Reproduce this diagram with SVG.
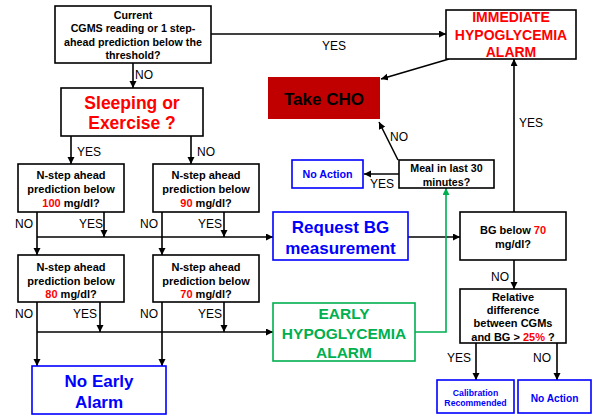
<svg xmlns="http://www.w3.org/2000/svg" width="594" height="419" viewBox="0 0 594 419">
<defs>
<marker id="ah" markerUnits="userSpaceOnUse" markerWidth="8" markerHeight="8" refX="7" refY="3.5" orient="auto"><path d="M0,0 L7,3.5 L0,7 z" fill="#000"/></marker>
<marker id="ahg" markerUnits="userSpaceOnUse" markerWidth="8" markerHeight="8" refX="7" refY="3.5" orient="auto"><path d="M0,0 L7,3.5 L0,7 z" fill="#00B050"/></marker>
</defs>
<style>
text{font-family:"Liberation Sans",Arial,sans-serif;text-anchor:middle}
.b{font-weight:bold}
.box{fill:#fff;stroke:#000;stroke-width:1.6}
.bb{fill:#fff;stroke:#0000FF;stroke-width:1.6}
.gb{fill:#fff;stroke:#00B050;stroke-width:1.6}
.c{fill:none;stroke:#000;stroke-width:1.6;marker-end:url(#ah)}
.l{fill:none;stroke:#000;stroke-width:1.6}
.lab{font-size:12px;text-anchor:start}
.r{fill:#FF0000}
.bl{fill:#0000FF}
.gr{fill:#00B050}
.s11{font-size:11px}
</style>
<g id="connectors">
<line class="c" x1="211" y1="34" x2="446" y2="34"/>
<line class="c" x1="133" y1="63" x2="133" y2="88"/>
<line class="c" x1="71" y1="136" x2="71" y2="164"/>
<line class="c" x1="191" y1="136" x2="191" y2="164"/>
<line class="c" x1="37" y1="212" x2="37" y2="255"/>
<line class="c" x1="104" y1="212" x2="104" y2="237"/>
<line class="c" x1="162" y1="212" x2="162" y2="255"/>
<line class="c" x1="224" y1="212" x2="224" y2="237"/>
<line class="c" x1="37" y1="237" x2="273" y2="237"/>
<line class="c" x1="37" y1="302" x2="37" y2="366"/>
<line class="c" x1="100" y1="302" x2="100" y2="332"/>
<line class="c" x1="162" y1="302" x2="162" y2="366"/>
<line class="c" x1="224" y1="302" x2="224" y2="332"/>
<line class="c" x1="37" y1="332" x2="273" y2="332"/>
<line class="c" x1="408" y1="237" x2="460" y2="237"/>
<line class="c" x1="514" y1="260" x2="514" y2="289"/>
<line class="c" x1="514" y1="212" x2="514" y2="59"/>
<line class="c" x1="449" y1="59" x2="381" y2="79"/>
<line class="c" x1="399" y1="174" x2="364" y2="174"/>
<line class="c" x1="398" y1="160" x2="379" y2="122"/>
<path d="M415,332 H446 V188" fill="none" stroke="#00B050" stroke-width="1.6" marker-end="url(#ahg)"/>
<line class="c" x1="476" y1="343" x2="476" y2="380"/>
<line class="c" x1="557" y1="343" x2="557" y2="380"/>
<text class="lab" x="135" y="79">NO</text>
<text class="lab" x="77" y="156">YES</text>
<text class="lab" x="197" y="156">NO</text>
<text class="lab" x="15" y="227.5">NO</text>
<text class="lab" x="79" y="227.5">YES</text>
<text class="lab" x="140" y="227.5">NO</text>
<text class="lab" x="198" y="227.5">YES</text>
<text class="lab" x="15" y="318">NO</text>
<text class="lab" x="73" y="318">YES</text>
<text class="lab" x="140" y="318">NO</text>
<text class="lab" x="198" y="318">YES</text>
<text class="lab" x="322" y="50">YES</text>
<text class="lab" x="519" y="127">YES</text>
<text class="lab" x="390" y="141">NO</text>
<text class="lab" x="370" y="188">YES</text>
<text class="lab" x="491" y="281">NO</text>
<text class="lab" x="447" y="361.5">YES</text>
<text class="lab" x="533" y="361.5">NO</text>
</g>
<g id="start">
<rect class="box" x="55" y="6" width="156" height="57"/>
<text class="b" font-size="10.7" x="133" y="19.2">Current</text>
<text class="b" font-size="10.7" x="133" y="32.4">CGMS reading or 1 step-</text>
<text class="b" font-size="10.7" x="133" y="45.6">ahead prediction below the</text>
<text class="b" font-size="10.7" x="133" y="58.6">threshold?</text>
</g>
<g id="immediate">
<rect class="box" x="446" y="10" width="130" height="49"/>
<text class="b r" font-size="14" x="511" y="22.3">IMMEDIATE</text>
<text class="b r" font-size="14" x="511" y="39.7">HYPOGLYCEMIA</text>
<text class="b r" font-size="14" x="511" y="57.3">ALARM</text>
</g>
<g id="takecho">
<rect x="268" y="77" width="112" height="42" fill="#C00000"/>
<text class="b" font-size="17" x="324" y="104.5">Take CHO</text>
</g>
<g id="sleeping">
<rect class="box" x="61" y="88" width="142" height="48"/>
<text class="b r" font-size="17.5" x="132" y="108.5">Sleeping or</text>
<text class="b r" font-size="17.5" x="132" y="129">Exercise ?</text>
</g>
<g id="noaction1">
<rect class="bb" x="292" y="160" width="71" height="28"/>
<text class="b bl" font-size="10.7" x="327.5" y="178">No Action</text>
</g>
<g id="meal">
<rect class="box" x="399" y="160" width="95" height="28"/>
<text class="b" font-size="10.7" x="446.5" y="171.5">Meal in last 30</text>
<text class="b" font-size="10.7" x="446.5" y="185.5">minutes?</text>
</g>
<g id="n100">
<rect class="box" x="18" y="164" width="106" height="48"/>
<text class="b s11" x="71" y="179">N-step ahead</text>
<text class="b s11" x="71" y="193">prediction below</text>
<text class="b s11" x="71" y="206.5"><tspan class="r">100</tspan> mg/dl?</text>
</g>
<g id="n90">
<rect class="box" x="153" y="164" width="106" height="48"/>
<text class="b s11" x="206" y="179">N-step ahead</text>
<text class="b s11" x="206" y="193">prediction below</text>
<text class="b s11" x="206" y="206.5"><tspan class="r">90</tspan> mg/dl?</text>
</g>
<g id="n80">
<rect class="box" x="18" y="255" width="106" height="47"/>
<text class="b s11" x="71" y="270.7">N-step ahead</text>
<text class="b s11" x="71" y="284.7">prediction below</text>
<text class="b s11" x="71" y="297.5"><tspan class="r">80</tspan> mg/dl?</text>
</g>
<g id="n70">
<rect class="box" x="153" y="255" width="106" height="47"/>
<text class="b s11" x="206" y="270.7">N-step ahead</text>
<text class="b s11" x="206" y="284.7">prediction below</text>
<text class="b s11" x="206" y="297.5"><tspan class="r">70</tspan> mg/dl?</text>
</g>
<g id="request">
<rect class="bb" x="273" y="212" width="135" height="48"/>
<text class="b bl" font-size="17" x="340.5" y="233">Request BG</text>
<text class="b bl" font-size="17" x="340.5" y="254">measurement</text>
</g>
<g id="bgbelow">
<rect class="box" x="460" y="212" width="106" height="48"/>
<text class="b s11" x="513" y="234"><tspan>BG below </tspan><tspan class="r">70</tspan></text>
<text class="b s11" x="513" y="247.5">mg/dl?</text>
</g>
<g id="relative">
<rect class="box" x="460" y="289" width="106" height="54"/>
<text class="b s11" x="513" y="300.7">Relative</text>
<text class="b s11" x="513" y="314">difference</text>
<text class="b s11" x="513" y="327.3">between CGMs</text>
<text class="b s11" x="513" y="340.7">and BG &gt; <tspan class="r">25%</tspan> ?</text>
</g>
<g id="early">
<rect class="gb" x="273" y="303" width="142" height="58"/>
<text class="b gr" font-size="15.5" x="344" y="318.6">EARLY</text>
<text class="b gr" font-size="15.5" x="344" y="339">HYPOGLYCEMIA</text>
<text class="b gr" font-size="15.5" x="344" y="358.3">ALARM</text>
</g>
<g id="noearly">
<rect class="bb" x="32" y="366" width="134" height="48"/>
<text class="b bl" font-size="17" x="99" y="387">No Early</text>
<text class="b bl" font-size="17" x="99" y="407.5">Alarm</text>
</g>
<g id="calibration">
<rect class="bb" x="437" y="380" width="77" height="33"/>
<text class="b bl" font-size="8.7" x="475.5" y="395.5">Calibration</text>
<text class="b bl" font-size="8.7" x="475.5" y="406">Recommended</text>
</g>
<g id="noaction2">
<rect class="bb" x="518" y="380" width="73" height="33"/>
<text class="b bl" font-size="10.2" x="554.5" y="401.5">No Action</text>
</g>
</svg>
